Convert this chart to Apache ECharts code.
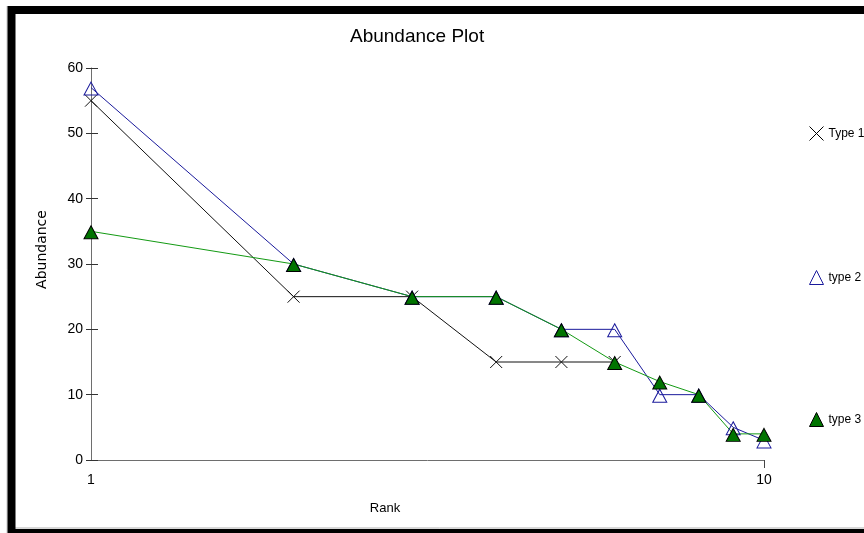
<!DOCTYPE html>
<html>
<head>
<meta charset="utf-8">
<script src="https://cdn.jsdelivr.net/npm/echarts@6/dist/echarts.min.js"></script>
<style>
  html, body { margin: 0; padding: 0; background: #fff; }
  #chart { width: 864px; height: 533px; }
</style>
</head>
<body>
<div id="chart"></div>
<script>
// Rank / abundance values for each type
const ranks = [1, 2, 3, 4, 5, 6, 7, 8, 9, 10];
const type1 = [55, 25, 25, 15, 15, 15];
const type2 = [57, 30, 25, 25, 20, 20, 10, 10, 5, 3];
const type3 = [35, 30, 25, 25, 20, 15, 12, 10, 4, 4];
const seriesNames = ['Type 1', 'type 2', 'type 3'];
const yTicks = { min: 0, max: 60, step: 10 };
const xTicks = { min: 1, max: 10 };

const SANS = '"Liberation Sans", Arial, sans-serif';
const CROSS = 'path://M0,0L10,10M10,0L0,10';
const TRI = 'path://M5,0L10,10L0,10Z';

const pairs = vals => vals.map((v, i) => [ranks[i], v]);

const chart = echarts.init(document.getElementById('chart'), null, { renderer: 'canvas' });

chart.setOption({
  animation: false,
  backgroundColor: '#fff',
  title: {
    text: 'Abundance Plot',
    left: 345,
    top: 22,
    textStyle: { fontFamily: SANS, fontSize: 19, fontWeight: 'normal', color: '#000' }
  },
  legend: {
    orient: 'vertical',
    left: 802,
    top: 119,
    itemWidth: 14,
    itemHeight: 14,
    itemGap: 125,
    textStyle: { fontFamily: SANS, fontSize: 12, color: '#000', lineHeight: 14 },
    data: [
      { name: seriesNames[0], icon: CROSS, itemStyle: { color: 'none', borderColor: '#000', borderWidth: 1 } },
      { name: seriesNames[1], icon: TRI, itemStyle: { color: 'none', borderColor: '#1a1a9c', borderWidth: 1 } },
      { name: seriesNames[2], icon: TRI, itemStyle: { color: '#007400', borderColor: '#000', borderWidth: 1 } }
    ]
  },
  grid: { left: 91, right: 100, top: 68, bottom: 73, containLabel: false },
  xAxis: {
    type: 'log',
    logBase: 10,
    min: xTicks.min,
    max: xTicks.max,
    name: 'Rank',
    nameLocation: 'middle',
    nameGap: 42,
    nameTextStyle: { fontFamily: SANS, fontSize: 13, color: '#000', padding: [0, 85, 0, 0] },
    axisLine: { lineStyle: { color: '#6e6e6e', width: 1 } },
    axisTick: { show: true, length: 8, customValues: [10], lineStyle: { color: '#444' } },
    axisLabel: { fontFamily: SANS, fontSize: 14, color: '#000', margin: 13 },
    splitLine: { show: false }
  },
  yAxis: [
    {
      type: 'value',
      position: 'left',
      min: yTicks.min,
      max: yTicks.max,
      interval: yTicks.step,
      name: 'Abundance',
      nameLocation: 'middle',
      nameGap: 42,
      nameTextStyle: { fontFamily: '"DejaVu Sans", sans-serif', fontSize: 14, color: '#000', padding: [0, 0, 0, 29] },
      axisLine: { show: true, lineStyle: { color: '#6e6e6e', width: 1 } },
      axisTick: { show: true, length: 5, lineStyle: { color: '#333' } },
      axisLabel: { fontFamily: SANS, fontSize: 14, color: '#000', margin: 8 },
      splitLine: { show: false }
    },
    {
      type: 'value',
      position: 'left',
      min: yTicks.min,
      max: yTicks.max,
      interval: yTicks.step,
      axisLine: { show: false },
      axisTick: { show: true, inside: true, length: 7, lineStyle: { color: '#333' } },
      axisLabel: { show: false },
      splitLine: { show: false }
    }
  ],
  graphic: [
    // page frame
    { type: 'line', shape: { x1: 7, y1: 6, x2: 7, y2: 533 }, style: { stroke: '#c8c8c8', lineWidth: 1 }, silent: true },
    { type: 'line', shape: { x1: 15, y1: 528, x2: 864, y2: 528 }, style: { stroke: '#b0b0b0', lineWidth: 1 }, silent: true },
    { type: 'rect', shape: { x: 11.5, y: 10, width: 900, height: 523 }, style: { fill: 'none', stroke: '#000', lineWidth: 8 }, silent: true }
  ],
  series: [
    {
      name: seriesNames[0],
      type: 'line',
      data: pairs(type1),
      symbol: CROSS,
      symbolSize: 12,
      lineStyle: { color: '#111', width: 1 },
      itemStyle: { color: 'none', borderColor: '#111', borderWidth: 1 }
    },
    {
      name: seriesNames[1],
      type: 'line',
      data: pairs(type2),
      symbol: TRI,
      symbolSize: [14, 13],
      symbolOffset: [0, 1],
      lineStyle: { color: '#1a1a9c', width: 1 },
      itemStyle: { color: 'none', borderColor: '#1a1a9c', borderWidth: 1 }
    },
    {
      name: seriesNames[2],
      type: 'line',
      data: pairs(type3),
      symbol: TRI,
      symbolSize: [14, 13],
      symbolOffset: [0, 1],
      lineStyle: { color: '#139a13', width: 1 },
      itemStyle: { color: '#007400', borderColor: '#000', borderWidth: 1 }
    }
  ]
});
</script>
</body>
</html>
